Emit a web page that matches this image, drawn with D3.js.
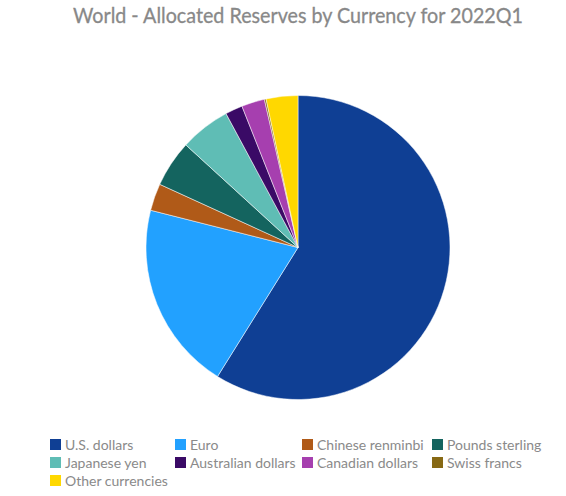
<!DOCTYPE html>
<html>
<head>
<meta charset="utf-8">
<script src="https://cdn.jsdelivr.net/npm/d3@7"></script>
<style>
  body { margin: 0; background: #fff; }
  .title { font-family: Lato, sans-serif; font-size: 22px; fill: #888; }
  .legend text { font-family: Lato, sans-serif; font-size: 14px; fill: #8a8a8a; }
</style>
</head>
<body>
<div id="chart"></div>
<script>
var categories = ["U.S. dollars", "Euro", "Chinese renminbi", "Pounds sterling", "Japanese yen",
                  "Australian dollars", "Canadian dollars", "Swiss francs", "Other currencies"];
var shares = [58.88, 20.06, 2.88, 4.97, 5.36, 1.84, 2.46, 0.18, 3.37];
var colors = ["#0f3f94", "#22a1ff", "#b05a18", "#14645f", "#5fbdb5", "#3a0a66", "#a63faf", "#876914", "#ffd800"];

var width = 566, height = 496;
var svg = d3.select("#chart").append("svg")
    .attr("width", width)
    .attr("height", height);

// title is set in a narrow face in the original, squeeze it to the same width
svg.append("text")
    .attr("class", "title")
    .attr("x", 73)
    .attr("y", 23)
    .attr("textLength", 450)
    .attr("lengthAdjust", "spacingAndGlyphs")
    .style("stroke", "#888")
    .style("stroke-width", 0.3)
    .text("World - Allocated Reserves by Currency for 2022Q1");

var color = d3.scaleOrdinal().domain(categories).range(colors);
var data = categories.map(function(c, i) { return {name: c, value: shares[i]}; });

var pie = d3.pie().value(function(d) { return d.value; }).sort(null);
var arc = d3.arc().innerRadius(0).outerRadius(152);

var g = svg.append("g").attr("transform", "translate(298,247.5)");
g.selectAll("path")
    .data(pie(data))
    .enter().append("path")
    .attr("d", arc)
    .attr("fill", function(d) { return color(d.data.name); })
    .attr("stroke", "#fff")
    .attr("stroke-width", 0.5);

// legend: 4 columns
var colX = [50, 175, 302, 432];
var legend = svg.append("g").attr("class", "legend")
    .selectAll("g")
    .data(categories)
    .enter().append("g")
    .attr("transform", function(d, i) {
        return "translate(" + colX[i % 4] + "," + (439 + Math.floor(i / 4) * 18) + ")";
    });
legend.append("rect")
    .attr("width", 11)
    .attr("height", 11)
    .attr("fill", function(d) { return color(d); });
legend.append("text")
    .attr("x", 15)
    .attr("y", 10.5)
    .text(function(d) { return d; });
</script>
</body>
</html>
